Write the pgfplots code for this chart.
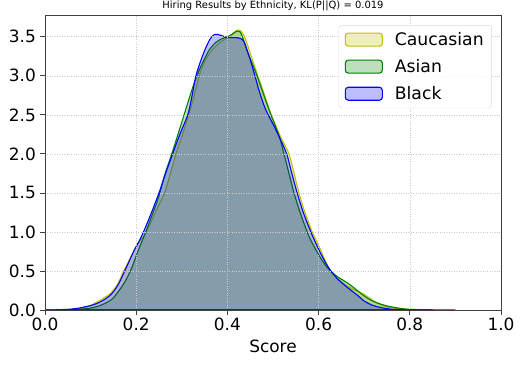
\documentclass[border=0pt]{standalone}
\usepackage{fontspec}
\setmainfont{DejaVu Sans}
\usepackage{pgfplots}
\pgfplotsset{compat=1.18}
\definecolor{cy}{rgb}{0.75,0.75,0}
\definecolor{cg}{rgb}{0,0.5,0}
\definecolor{cb}{rgb}{0,0,1}
\begin{document}
\begin{tikzpicture}
\useasboundingbox (0,0) rectangle (527bp,367bp);
\begin{axis}[
  at={(45bp,57bp)}, anchor=south west,
  scale only axis, width=456bp, height=294.3bp,
  xmin=0, xmax=1, ymin=0, ymax=3.77,
  xtick={0,0.2,0.4,0.6,0.8,1.0},
  ytick={0,0.5,1.0,1.5,2.0,2.5,3.0,3.5},
  /pgf/number format/.cd, fixed, fixed zerofill, precision=1, assume math mode=true,
  /pgfplots/.cd,
  tick align=outside, tick pos=left,
  major tick length=5bp,
  tick style={black!75, line width=0.8bp},
  axis line style={black!75, line width=0.8bp},
  grid=major, grid style={dotted, black!20, line width=0.6bp},
  axis on top,
  ticklabel style={font=\fontsize{17}{20}\selectfont},
  xticklabel style={anchor=north, inner sep=0pt, yshift=-3bp},
  yticklabel style={anchor=east, inner sep=0pt, xshift=-4bp},
  xlabel={Score},
  xlabel style={font=\fontsize{17}{20}\selectfont, at={(axis description cs:0.5,0)}, anchor=base, yshift=-42.7bp},
  every axis title shift=0pt,
  title={Hiring Results by Ethnicity, KL(P||Q) = 0.019},
  title style={font=\fontsize{10}{12}\selectfont, at={(axis description cs:0.5,1)}, anchor=base, yshift=6.7bp},
  legend style={at={(0.980,0.968)}, anchor=north east, draw=black!15, rounded corners=3bp,
    fill=white, fill opacity=0.8, text opacity=1, font=\fontsize{17.3}{20}\selectfont,
    inner xsep=6bp, inner ysep=5bp, row sep=8.5bp,
    /tikz/every odd column/.append style={column sep=10bp}},
  legend cell align=left,
  legend image code/.code={\draw[#1] (0bp,-6.5bp) rectangle (37bp,6.5bp);},
]
\addplot[draw=cy, fill=cy, fill opacity=0.25, line width=1.1bp, smooth] coordinates {
(0.00,0.000) (0.03,0.002) (0.05,0.004) (0.065,0.010) (0.08,0.020) (0.095,0.045) (0.109,0.085)
(0.125,0.14) (0.145,0.22) (0.16,0.34) (0.171,0.48) (0.184,0.63) (0.196,0.77) (0.21,0.90)
(0.222,1.00) (0.242,1.25) (0.262,1.50) (0.275,1.75) (0.287,2.00) (0.30,2.22) (0.315,2.50)
(0.325,2.70) (0.338,3.00) (0.35,3.18) (0.365,3.32) (0.38,3.41) (0.395,3.47) (0.41,3.53)
(0.42,3.58) (0.428,3.58) (0.436,3.52) (0.445,3.38) (0.455,3.20) (0.465,3.03) (0.48,2.78)
(0.495,2.52) (0.505,2.38) (0.515,2.24) (0.525,2.12) (0.535,2.00) (0.545,1.78) (0.557,1.50)
(0.57,1.25) (0.586,1.00) (0.596,0.88) (0.608,0.72) (0.617,0.60) (0.625,0.51) (0.633,0.45)
(0.645,0.385) (0.665,0.30) (0.685,0.24) (0.70,0.20) (0.715,0.14) (0.73,0.085) (0.745,0.05)
(0.76,0.03) (0.78,0.015) (0.80,0.008) (0.85,0.003) (0.90,0.000)
} \closedcycle;
\addplot[draw=cg, fill=cg, fill opacity=0.25, line width=1.1bp, smooth] coordinates {
(0.00,0.000) (0.04,0.001) (0.06,0.004) (0.08,0.010) (0.10,0.025) (0.12,0.055) (0.145,0.13)
(0.16,0.23) (0.175,0.36) (0.188,0.51) (0.205,0.77) (0.214,0.90) (0.221,1.00) (0.235,1.22)
(0.249,1.44) (0.262,1.72) (0.278,2.00) (0.29,2.22) (0.305,2.50) (0.32,2.78) (0.333,3.00)
(0.345,3.16) (0.36,3.33) (0.375,3.43) (0.39,3.48) (0.40,3.50) (0.41,3.53) (0.42,3.57)
(0.428,3.56) (0.436,3.45) (0.443,3.32) (0.455,3.15) (0.465,3.00) (0.48,2.75) (0.494,2.52)
(0.505,2.36) (0.515,2.20) (0.524,2.00) (0.535,1.75) (0.546,1.50) (0.56,1.24) (0.575,1.00)
(0.584,0.88) (0.603,0.68) (0.617,0.56) (0.628,0.49) (0.643,0.42) (0.665,0.34) (0.685,0.25)
(0.70,0.18) (0.715,0.125) (0.73,0.088) (0.745,0.06) (0.76,0.04) (0.78,0.02) (0.80,0.008)
(0.85,0.002) (0.90,0.000)
} \closedcycle;
\addplot[draw=cb, fill=cb, fill opacity=0.25, line width=1.1bp, smooth] coordinates {
(0.00,0.000) (0.02,0.002) (0.04,0.006) (0.058,0.012) (0.075,0.025) (0.087,0.040) (0.10,0.057)
(0.112,0.080) (0.128,0.125) (0.145,0.20) (0.16,0.32) (0.174,0.49) (0.185,0.63) (0.196,0.77)
(0.207,0.89) (0.216,1.00) (0.233,1.24) (0.25,1.50) (0.265,1.76) (0.28,2.00) (0.295,2.24)
(0.313,2.50) (0.322,2.73) (0.331,3.00) (0.342,3.20) (0.352,3.35) (0.362,3.47) (0.372,3.53)
(0.385,3.52) (0.40,3.49) (0.415,3.49) (0.428,3.48) (0.436,3.44) (0.445,3.30) (0.458,3.05)
(0.47,2.80) (0.483,2.58) (0.493,2.46) (0.502,2.36) (0.515,2.20) (0.53,2.00) (0.54,1.78)
(0.553,1.50) (0.567,1.24) (0.583,1.00) (0.592,0.88) (0.605,0.72) (0.617,0.59) (0.627,0.50)
(0.643,0.39) (0.665,0.28) (0.685,0.19) (0.70,0.115) (0.715,0.068) (0.73,0.04) (0.745,0.022)
(0.76,0.010) (0.78,0.004) (0.80,0.001) (0.85,0.000)
} \closedcycle;
\legend{Caucasian, Asian, Black}
\end{axis}
\end{tikzpicture}
\end{document}
